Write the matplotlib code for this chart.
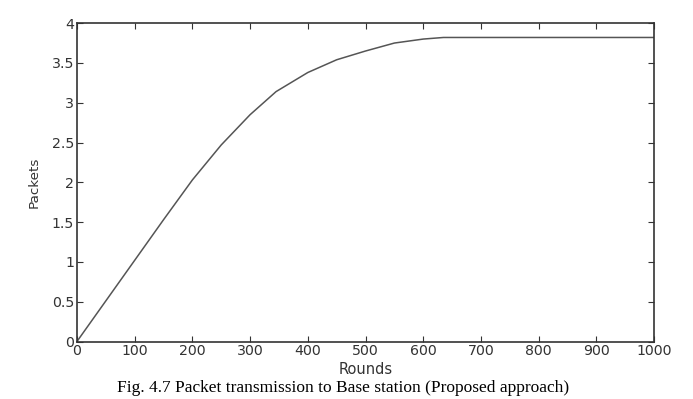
import matplotlib.pyplot as plt
from matplotlib.ticker import FuncFormatter

rounds = [0, 50, 100, 150, 200, 250, 300, 345, 400, 450, 500, 525, 550, 600, 635, 700, 800, 900, 1000]
packets = [0, 0.51, 1.02, 1.53, 2.03, 2.47, 2.85, 3.14, 3.38, 3.54, 3.65, 3.70, 3.75, 3.80, 3.82, 3.82, 3.82, 3.82, 3.82]

x_ticks = list(range(0, 1001, 100))
y_ticks = [0, 0.5, 1, 1.5, 2, 2.5, 3, 3.5, 4]

caption = 'Fig. 4.7 Packet transmission to Base station (Proposed approach)'


def matlab_fmt(v, pos):
    return ('%g' % v)


fig = plt.figure(figsize=(6.93, 3.99), dpi=100)
ax = fig.add_axes([0.111, 0.144, 0.833, 0.798])

ax.plot(rounds, packets, color='#555555', lw=1.1)

ax.set_xlim(0, 1000)
ax.set_ylim(0, 4)
ax.set_xticks(x_ticks)
ax.set_yticks(y_ticks)
ax.yaxis.set_major_formatter(FuncFormatter(matlab_fmt))
ax.tick_params(direction='in', top=True, right=True, length=4,
               labelsize=10.2, colors='#333333', pad=2)
for s in ax.spines.values():
    s.set_color('#333333')
    s.set_linewidth(1.2)

ax.set_xlabel('Rounds', fontsize=10.5, color='#333333', labelpad=3)
ax.set_ylabel('Packets', fontsize=9.7, color='#333333', labelpad=8)

fig.text(0.495, 0.0175, caption, ha='center', va='baseline',
         family='Liberation Serif', fontsize=12.5)

fig.savefig('out.png', dpi=100)
